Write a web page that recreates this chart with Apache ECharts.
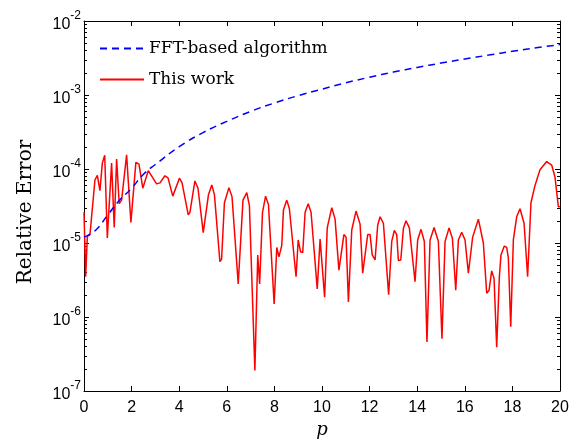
<!DOCTYPE html>
<html>
<head>
<meta charset="utf-8">
<script src="https://cdn.jsdelivr.net/npm/echarts@6/dist/echarts.min.js"></script>
<style>
  html, body { margin: 0; padding: 0; background: #fff; }
  #chart { width: 580px; height: 443px; }
</style>
</head>
<body>
<div id="chart"></div>
<script>
// FFT-based algorithm (blue dashed)
const fftP = [0, 0.5, 1, 1.5, 2, 2.5, 3, 4, 5, 6, 7, 8, 9, 10, 11, 12, 13, 14, 15, 16, 17, 18, 19, 20];
const fftErr = [1.2e-5, 1.5e-5, 2.4e-5, 3.8e-5, 5.5e-5, 8.5e-5, 1.15e-4, 2.0e-4, 3.1e-4, 4.4e-4, 6.0e-4,
  7.8e-4, 9.8e-4, 1.2e-3, 1.46e-3, 1.74e-3, 2.04e-3, 2.36e-3, 2.7e-3, 3.07e-3, 3.46e-3, 3.9e-3, 4.35e-3, 4.8e-3];

// This work (red)
const redP = [0, 0.07, 0.14, 0.25, 0.46, 0.56, 0.67, 0.77, 0.87, 0.98, 1.16, 1.27, 1.37, 1.48, 1.58, 1.79, 1.97,
  2.18, 2.31, 2.47, 2.70, 3.05, 3.19, 3.40, 3.53, 3.73, 3.80, 4.01, 4.12, 4.38, 4.45, 4.66, 4.79, 5.01, 5.08,
  5.23, 5.37, 5.48, 5.71, 5.78, 5.90, 6.09, 6.22, 6.48, 6.68, 6.84, 6.95, 7.18, 7.30, 7.38, 7.50, 7.63, 7.75,
  7.99, 8.10, 8.19, 8.31, 8.38, 8.52, 8.63, 8.91, 9.00, 9.10, 9.19, 9.29, 9.42, 9.54, 9.80, 9.92, 10.0, 10.11,
  10.22, 10.41, 10.55, 10.71, 10.92, 11.01, 11.11, 11.25, 11.43, 11.60, 11.71, 11.92, 12.02, 12.11, 12.23,
  12.34, 12.44, 12.58, 12.80, 12.93, 13.04, 13.14, 13.21, 13.31, 13.42, 13.53, 13.67, 13.91, 14.02, 14.16,
  14.30, 14.41, 14.54, 14.71, 14.89, 15.04, 15.17, 15.34, 15.48, 15.62, 15.73, 15.87, 15.92, 16.01, 16.15,
  16.22, 16.33, 16.57, 16.78, 16.92, 17.02, 17.13, 17.23, 17.34, 17.45, 17.52, 17.66, 17.76, 17.83, 17.93,
  18.04, 18.18, 18.32, 18.49, 18.64, 18.78, 18.95, 19.16, 19.44, 19.65, 19.79, 19.93, 20];
const redErr = [2.6e-5, 3.5e-6, 1.23e-5, 1.3e-5, 7.1e-5, 8.2e-5, 5.1e-5, 1.2e-4, 1.53e-4, 1.17e-5, 1.2e-4,
  1.62e-5, 1.36e-4, 3.4e-5, 3.8e-5, 1.56e-4, 1.9e-5, 1.23e-4, 1.16e-4, 5.5e-5, 9.5e-5, 6.3e-5, 6.5e-5,
  8.1e-5, 7.6e-5, 4.3e-5, 4.3e-5, 7.5e-5, 6.5e-5, 2.4e-5, 2.6e-5, 6.9e-5, 5.5e-5, 1.38e-5, 1.45e-5, 4.5e-5,
  6.1e-5, 4.5e-5, 5.6e-6, 6.0e-6, 3.5e-5, 5.6e-5, 4.2e-5, 2.8e-6, 3.8e-5, 4.8e-5, 3.2e-5, 1.9e-7, 6.9e-6,
  2.8e-6, 2.6e-5, 4.3e-5, 3.3e-5, 1.5e-6, 8.7e-6, 6.5e-6, 9.3e-6, 2.8e-5, 3.8e-5, 2.9e-5, 3.5e-6, 1.1e-5,
  7.6e-6, 7.4e-6, 2.6e-5, 3.4e-5, 2.6e-5, 2.4e-6, 1.13e-5, 1.15e-5, 1.85e-6, 1.6e-5, 3.0e-5, 2.1e-5, 4.3e-6,
  1.3e-5, 1.2e-5, 1.6e-6, 1.5e-5, 2.7e-5, 1.8e-5, 3.9e-6, 1.3e-5, 1.3e-5, 6.9e-6, 5.9e-6, 1.74e-5, 2.26e-5,
  1.85e-5, 2.0e-6, 1.05e-5, 1.48e-5, 1.3e-5, 5.8e-6, 5.9e-6, 1.58e-5, 2.0e-5, 1.6e-5, 3.0e-6, 1.1e-5,
  1.53e-5, 1.05e-5, 4.6e-7, 1.1e-5, 1.62e-5, 1.05e-5, 5.1e-7, 1.05e-5, 1.6e-5, 1.15e-5, 2.3e-6, 1.1e-5,
  1.4e-5, 1.4e-5, 1.1e-5, 3.9e-6, 3.8e-6, 1.2e-5, 2.1e-5, 1.0e-5, 2.1e-6, 2.3e-6, 4.2e-6, 3.3e-6, 3.9e-7,
  3.4e-6, 6.9e-6, 9.1e-6, 8.7e-6, 6.3e-6, 7.4e-7, 1.1e-5, 2.26e-5, 2.9e-5, 1.85e-5, 3.5e-6, 3.5e-5, 6.0e-5,
  9.8e-5, 1.26e-4, 1.13e-4, 7.8e-5, 3.1e-5, 3.1e-5];

// log-axis minor tick positions (2..9 x 10^n)
const minorTickVals = [];
for (let e = -7; e <= -3; e++) {
  for (let m = 2; m <= 9; m++) minorTickVals.push(m * Math.pow(10, e));
}

const chart = echarts.init(document.getElementById('chart'));

const sansFont = '"Liberation Sans", Arial, sans-serif';
const serifFont = '"DejaVu Serif", "Liberation Serif", serif';

const frame = { show: true, onZero: false, lineStyle: { color: '#000', width: 1 } };
const tick = { inside: true, length: 5, lineStyle: { color: '#000' } };

const option = {
  animation: false,
  backgroundColor: '#fff',
  grid: { left: 84, right: 20, top: 21, bottom: 52, outerBoundsMode: 'none' },
  legend: {
    orient: 'vertical',
    left: 99,
    top: 40,
    padding: 0,
    itemWidth: 44,
    itemHeight: 14,
    itemGap: 14,
    itemStyle: { opacity: 0 },
    textStyle: { fontFamily: serifFont, fontSize: 17, color: '#000' },
    data: ['FFT-based algorithm', 'This work']
  },
  xAxis: [
    {
      type: 'value', min: 0, max: 20, interval: 2,
      name: 'p', nameLocation: 'middle', nameGap: 30,
      nameTextStyle: { fontFamily: serifFont, fontStyle: 'italic', fontSize: 18, color: '#000' },
      axisLine: frame,
      axisTick: tick,
      axisLabel: { margin: 9, fontFamily: sansFont, fontSize: 16, color: '#000' },
      splitLine: { show: false }
    },
    {
      type: 'value', min: 0, max: 20, interval: 2, position: 'top',
      axisLine: frame,
      axisTick: tick,
      axisLabel: { show: false },
      splitLine: { show: false }
    }
  ],
  yAxis: [
    {
      type: 'log', min: 1e-7, max: 1e-2, logBase: 10,
      name: 'Relative Error', nameLocation: 'middle', nameGap: 48,
      nameTextStyle: { fontFamily: serifFont, fontSize: 20, color: '#000', padding: [0, 12, 0, 0] },
      axisLine: frame,
      axisTick: tick,
      axisLabel: {
        margin: 3, color: '#000',
        formatter: (v) => '{b|10}{s|' + Math.round(Math.log10(v)) + '}',
        rich: {
          b: { fontFamily: sansFont, fontSize: 16, color: '#000', padding: [7, 0, 0, 0] },
          s: { fontFamily: sansFont, fontSize: 12, color: '#000', verticalAlign: 'top', padding: [0, 0, 8, 0] }
        }
      },
      splitLine: { show: false }
    },
    {
      type: 'log', min: 1e-7, max: 1e-2, logBase: 10, position: 'right',
      axisLine: frame,
      axisTick: tick,
      axisLabel: { show: false },
      splitLine: { show: false }
    }
  ],
  series: [
    {
      name: 'minor ticks',
      type: 'custom',
      silent: true,
      clip: false,
      xAxisIndex: 0,
      yAxisIndex: 0,
      data: minorTickVals.map((v) => [0, v]),
      renderItem: (params, api) => {
        const v = api.value(1);
        const l = api.coord([0, v]);
        const r = api.coord([20, v]);
        const style = { stroke: '#000', lineWidth: 1 };
        return {
          type: 'group',
          children: [
            { type: 'line', shape: { x1: l[0], y1: Math.round(l[1]) + 0.5, x2: l[0] + 3, y2: Math.round(l[1]) + 0.5 }, style },
            { type: 'line', shape: { x1: r[0] - 3, y1: Math.round(r[1]) + 0.5, x2: r[0], y2: Math.round(r[1]) + 0.5 }, style }
          ]
        };
      },
      z: 1
    },
    {
      name: 'FFT-based algorithm',
      type: 'line',
      smooth: true,
      symbol: 'none',
      lineStyle: { color: '#0000ff', width: 1.5, type: [7, 5] },
      itemStyle: { color: '#0000ff' },
      data: fftP.map((p, i) => [p, fftErr[i]]),
      z: 3
    },
    {
      name: 'This work',
      type: 'line',
      symbol: 'none',
      lineStyle: { color: '#ff0000', width: 1.5 },
      itemStyle: { color: '#ff0000' },
      data: redP.map((p, i) => [p, redErr[i]]),
      z: 2
    }
  ]
};

chart.setOption(option);
</script>
</body>
</html>
